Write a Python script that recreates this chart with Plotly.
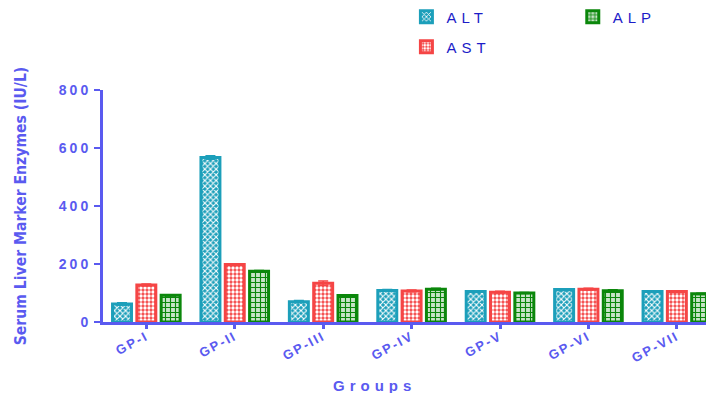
import plotly.graph_objects as go

groups = ["GP-I", "GP-II", "GP-III", "GP-IV", "GP-V", "GP-VI", "GP-VII"]
alt = [62, 567, 70, 109, 105, 112, 105]
ast = [128, 198, 134, 107, 103, 113, 105]
alp = [92, 175, 91, 113, 100, 108, 97]
alt_err = [4, 6, 4, 3, 3, 3, 3]
ast_err = [3, 3, 7, 3, 3, 3, 3]
alp_err = [2, 3, 2, 3, 2, 3, 2]

AXIS = "#5a5af0"
LEG = "#1c1cc8"

series = [
    ("ALT", alt, alt_err, "#1c9fba", "x", "#1c9fba", "white", 4, 0.45, "legend2"),
    ("AST", ast, ast_err, "#f54545", ".", "#f54545", "white", 4, 0.55, "legend3"),
    ("ALP", alp, alp_err, "#0b870b", "+", "#c8e4c8", "#0b870b", 5, 0.4, "legend4"),
]

fig = go.Figure()
for name, vals, err, col, shp, bg, fg, sz, sol, lg in series:
    fig.add_trace(go.Bar(
        name=name, x=groups, y=vals,
        marker=dict(color=col, line=dict(color=col, width=3),
                    pattern=dict(shape=shp, fgcolor=fg, bgcolor=bg,
                                 size=sz, solidity=sol, fillmode="replace")),
        error_y=dict(type="data", array=err, color=col, thickness=1.5, width=5),
        legend=lg,
    ))

legfont = dict(size=15, color=LEG, family="Liberation Sans")
def leg(x, y):
    return dict(xref="container", yref="container", x=x, y=y,
                xanchor="left", yanchor="middle", orientation="h",
                font=legfont, bgcolor="rgba(0,0,0,0)", itemwidth=30,
                entrywidth=110, entrywidthmode="pixels")

fig.update_layout(
    width=714, height=393,
    margin=dict(l=95, r=8, t=82, b=79, autoexpand=False),
    plot_bgcolor="white", paper_bgcolor="white",
    barmode="group", bargap=0.175, bargroupgap=0.22,
    font=dict(family="Liberation Sans", color=AXIS),
    showlegend=True,
    legend2=leg(0.558, 1 - 9 / 393),
    legend3=leg(0.558, 1 - 39 / 393),
    legend4=leg(0.791, 1 - 9 / 393),
    xaxis=dict(range=[-0.49, 6.42], showline=True, linecolor=AXIS, linewidth=3,
               ticks="outside", ticklen=4, tickwidth=3, tickcolor=AXIS,
               tickangle=-28, showgrid=False, zeroline=False, ticklabelstandoff=-5,
               tickfont=dict(size=13, color=AXIS, family="Liberation Sans", weight="bold")),
    yaxis=dict(range=[0, 800], tickvals=[0, 200, 400, 600, 800], showline=True,
               linecolor=AXIS, linewidth=3, ticks="outside", ticklen=6, tickwidth=2,
               tickcolor=AXIS, showgrid=False, zeroline=False,
               tickfont=dict(size=14, color=AXIS, family="Liberation Sans", weight="bold"),
               title=dict(text="Serum Liver Marker Enzymes (IU/L)",
                          font=dict(size=15.6, color=AXIS, family="DejaVu Sans Condensed", weight="bold"),
                          standoff=38)),
    annotations=[dict(text="Groups", xref="paper", yref="paper", x=0.445, y=-0.272,
                      xanchor="center", yanchor="middle", showarrow=False,
                      font=dict(size=15, color=AXIS, family="Liberation Sans", weight="bold"))],
)

post = """
var st = document.createElement('style');
st.textContent = 'text.legendtext {letter-spacing:5px !important;} ' +
                 '.xtick text{letter-spacing:2px !important;} ' +
                 '.ytick text{letter-spacing:3px !important;} .annotation-text{letter-spacing:5px !important;}';
document.head.appendChild(st);
function sp(){
  document.querySelectorAll('text').forEach(function(t){
    var n = t.textContent;
    if (n === 'ALT' || n === 'AST' || n === 'ALP') { t.style.letterSpacing = '5px'; t.setAttribute('letter-spacing','5px'); }
  });
}
sp(); setTimeout(sp, 0); setTimeout(sp, 50);
"""
fig.write_html("out.html", post_script=post)
